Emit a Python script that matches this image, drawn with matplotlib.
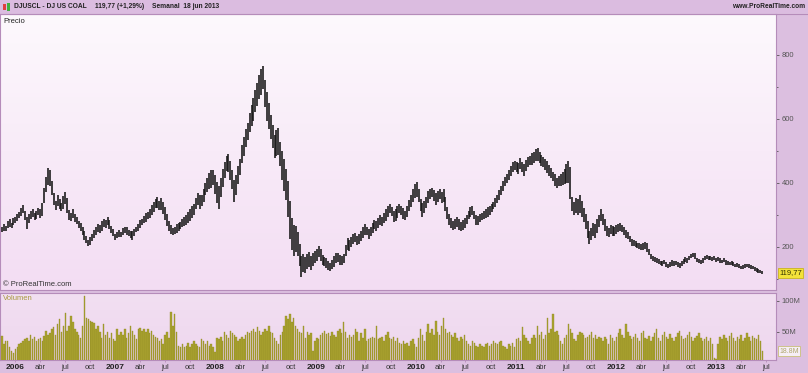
import matplotlib
matplotlib.use("Agg")
import matplotlib.pyplot as plt
import matplotlib.dates as mdates
from matplotlib import font_manager
from matplotlib.colors import LinearSegmentedColormap
from matplotlib.patches import Rectangle
import numpy as np
import pandas as pd

# weekly bars, first week starts 2005-11-14 (weekly, mondays)
start = "2005-11-14"

# mid of each weekly bar (price)
mid_2005 = [255, 262, 258, 270, 275, 268, 280]
mid_2006 = [285, 292, 300, 310, 318, 298, 275, 290, 300, 306,
            295, 300, 312, 305, 318, 360, 395, 420, 415, 385,
            350, 330, 345, 335, 325, 340, 352, 330, 300, 295,
            305, 290, 282, 270, 262, 250, 235, 222, 212, 218,
            230, 240, 250, 260, 255, 265, 275, 272, 282, 270,
            255, 245]
mid_2007 = [232, 238, 242, 240, 248, 252, 250, 244, 240, 236,
            245, 255, 262, 272, 278, 285, 292, 298, 305, 315,
            325, 335, 338, 330, 335, 322, 305, 285, 265, 255,
            248, 252, 258, 262, 268, 275, 280, 285, 292, 300,
            310, 318, 335, 350, 340, 345, 360, 380, 395, 405,
            412, 418, 395]
mid_2008 = [370, 355, 385, 415, 440, 460, 462, 440, 410, 375,
            395, 425, 450, 490, 515, 540, 560, 590, 610, 630,
            655, 675, 700, 715, 730, 680, 640, 610, 575, 545,
            515, 525, 530, 490, 455, 425, 395, 350, 285, 240,
            220, 225, 210, 175, 140, 150, 145, 155, 160, 150,
            162, 170]
mid_2009 = [175, 185, 175, 160, 155, 150, 142, 138, 145, 155,
            165, 168, 160, 158, 165, 190, 210, 205, 215, 225,
            230, 220, 225, 235, 245, 255, 250, 240, 248, 260,
            270, 265, 275, 285, 280, 290, 300, 310, 320, 310,
            295, 300, 310, 320, 315, 305, 298, 312, 330, 345,
            360, 375]
mid_2010 = [380, 360, 330, 315, 325, 340, 355, 365, 370, 360,
            350, 358, 365, 355, 360, 335, 305, 285, 275, 268,
            272, 278, 270, 265, 268, 275, 285, 300, 310, 315,
            300, 285, 282, 290, 295, 300, 305, 310, 315, 322,
            330, 338, 350, 362, 375, 390, 405, 415, 425, 438,
            450, 455]
mid_2011 = [450, 445, 460, 450, 440, 455, 465, 470, 475, 480,
            488, 490, 480, 470, 465, 458, 450, 440, 430, 420,
            410, 400, 405, 410, 415, 420, 430, 435, 400, 335,
            320, 330, 325, 335, 320, 300, 280, 255, 230, 240,
            255, 250, 265, 280, 300, 285, 270, 250, 245, 255,
            250, 248]
mid_2012 = [255, 260, 262, 258, 250, 240, 235, 225, 215, 212,
            210, 205, 203, 200, 202, 205, 198, 185, 170, 165,
            160, 158, 155, 150, 148, 152, 145, 140, 145, 150,
            148, 150, 145, 142, 148, 155, 160, 158, 165, 172,
            175, 172, 160, 155, 152, 158, 165, 168, 166, 165,
            162, 165, 160]
mid_2013 = [162, 158, 155, 160, 152, 150, 148, 150, 146, 142,
            144, 140, 136, 138, 140, 142, 140, 138, 136, 132,
            128, 125, 124, 121]

# high-low span of each weekly bar
span_2005 = [18, 22, 15, 20, 24, 16, 20]
span_2006 = [20, 22, 18, 25, 24, 30, 35, 28, 22, 26,
             20, 24, 22, 30, 40, 48, 45, 55, 50, 42,
             38, 30, 35, 32, 28, 40, 38, 45, 30, 25,
             28, 24, 22, 20, 26, 24, 28, 22, 18, 24,
             20, 26, 22, 24, 25, 30, 28, 26, 24, 30,
             22, 20]
span_2007 = [20, 18, 22, 16, 20, 18, 24, 20, 22, 26,
             20, 18, 22, 24, 20, 22, 26, 24, 28, 30,
             32, 28, 34, 30, 36, 40, 42, 38, 30, 28,
             24, 22, 26, 24, 22, 28, 26, 30, 32, 40,
             38, 35, 34, 38, 42, 36, 40, 38, 44, 50,
             55, 48, 60]
span_2008 = [65, 70, 60, 55, 50, 48, 55, 60, 58, 70,
             62, 55, 50, 58, 60, 55, 52, 60, 65, 70,
             68, 72, 75, 80, 70, 85, 90, 80, 75, 70,
             72, 80, 85, 75, 90, 100, 95, 110, 120, 100,
             95, 80, 75, 70, 65, 55, 50, 45, 48, 42,
             40, 38]
span_2009 = [40, 35, 38, 30, 28, 32, 30, 26, 28, 34,
             30, 28, 32, 30, 28, 35, 38, 32, 30, 34,
             30, 28, 32, 30, 34, 32, 28, 30, 26, 32,
             28, 30, 34, 30, 28, 32, 36, 34, 30, 28,
             32, 35, 38, 30, 28, 32, 30, 34, 36, 38,
             40, 42]
span_2010 = [45, 40, 38, 42, 36, 34, 38, 32, 30, 34,
             36, 32, 30, 35, 40, 42, 38, 34, 30, 28,
             32, 30, 34, 28, 30, 32, 28, 26, 30, 28,
             26, 30, 28, 26, 24, 28, 26, 30, 28, 26,
             24, 28, 26, 30, 28, 32, 30, 28, 32, 30,
             34, 30]
span_2011 = [32, 36, 34, 30, 38, 34, 32, 30, 36, 34,
             38, 40, 36, 34, 32, 36, 38, 34, 32, 30,
             36, 34, 32, 38, 40, 45, 60, 70, 100, 45,
             40, 48, 52, 55, 50, 45, 48, 55, 42, 38,
             40, 45, 42, 38, 36, 34, 38, 32, 30, 28,
             30, 26]
span_2012 = [28, 26, 24, 22, 26, 24, 22, 20, 22, 18,
             20, 18, 16, 20, 22, 24, 26, 20, 18, 16,
             15, 14, 16, 14, 15, 13, 16, 14, 15, 16,
             14, 13, 15, 14, 16, 18, 15, 14, 13, 14,
             15, 16, 14, 13, 12, 14, 13, 12, 14, 12,
             13, 11, 12]
span_2013 = [12, 13, 11, 12, 14, 12, 11, 13, 12, 10,
             11, 12, 10, 11, 12, 10, 11, 12, 10, 11,
             10, 12, 10, 8]

# weekly volume, millions
vol_2005 = [43, 30, 35, 35, 25, 20, 16]
vol_2006 = [22, 25, 30, 32, 35, 38, 40, 35, 45, 38,
            42, 35, 38, 40, 36, 43, 51, 45, 48, 55,
            58, 45, 62, 70, 50, 60, 80, 52, 60, 76,
            65, 55, 50, 45, 40, 60, 108, 72, 70, 68,
            66, 64, 55, 60, 50, 40, 62, 45, 50, 40,
            48, 38]
vol_2007 = [35, 55, 45, 50, 45, 55, 40, 48, 60, 52,
            45, 38, 55, 56, 52, 54, 50, 55, 48, 52,
            45, 42, 40, 35, 38, 30, 45, 50, 40, 82,
            60, 78, 50, 28, 25, 30, 26, 28, 32, 25,
            30, 35, 30, 28, 26, 38, 35, 30, 36, 28,
            30, 25, 18]
vol_2008 = [40, 38, 42, 35, 50, 45, 40, 52, 48, 45,
            42, 35, 38, 42, 38, 45, 50, 48, 52, 55,
            50, 58, 52, 45, 50, 55, 52, 60, 50, 48,
            40, 35, 30, 45, 50, 60, 75, 70, 78, 65,
            72, 60, 55, 50, 48, 60, 40, 50, 45, 48,
            20, 35]
vol_2009 = [40, 38, 45, 48, 52, 46, 48, 44, 50, 45,
            42, 52, 55, 48, 65, 50, 40, 45, 42, 45,
            55, 50, 35, 48, 40, 55, 35, 38, 40, 42,
            40, 60, 38, 40, 42, 35, 45, 50, 40, 38,
            42, 35, 40, 32, 30, 35, 30, 32, 28, 35,
            38, 30]
vol_2010 = [25, 40, 55, 45, 35, 50, 62, 48, 55, 45,
            68, 50, 45, 60, 72, 55, 48, 50, 45, 42,
            48, 40, 35, 42, 38, 45, 35, 30, 28, 35,
            32, 28, 25, 30, 28, 26, 30, 32, 28, 30,
            35, 32, 30, 34, 35, 28, 25, 22, 30, 28,
            32, 25]
vol_2011 = [38, 40, 35, 58, 45, 40, 35, 30, 40, 45,
            40, 60, 45, 50, 38, 45, 72, 48, 55, 78,
            50, 52, 45, 35, 30, 40, 45, 62, 55, 48,
            38, 35, 45, 50, 48, 45, 40, 42, 45, 50,
            40, 45, 38, 42, 40, 35, 42, 38, 30, 45,
            40, 36]
vol_2012 = [42, 48, 55, 45, 40, 62, 50, 44, 38, 42,
            46, 40, 36, 48, 52, 40, 38, 44, 35, 42,
            48, 55, 40, 36, 45, 50, 42, 38, 46, 40,
            35, 42, 48, 52, 44, 38, 40, 45, 50, 42,
            36, 40, 44, 48, 40, 35, 38, 42, 36, 40,
            30, 8, 6]
vol_2013 = [30, 42, 38, 45, 40, 36, 44, 48, 40, 35,
            42, 38, 45, 36, 40, 48, 42, 35, 44, 40,
            38, 45, 36, 18.8]

year_ticks = [2006, 2007, 2008, 2009, 2010, 2011, 2012, 2013]
month_ticks = [(4, "abr"), (7, "jul"), (10, "oct")]
last_price = "119,77"
last_vol = "18.8M"

mid = np.array(mid_2005 + mid_2006 + mid_2007 + mid_2008 + mid_2009 +
               mid_2010 + mid_2011 + mid_2012 + mid_2013, dtype=float)
span = np.array(span_2005 + span_2006 + span_2007 + span_2008 + span_2009 +
                span_2010 + span_2011 + span_2012 + span_2013, dtype=float)
vol = np.array(vol_2005 + vol_2006 + vol_2007 + vol_2008 + vol_2009 +
               vol_2010 + vol_2011 + vol_2012 + vol_2013, dtype=float)
dates = pd.date_range(start, periods=len(mid), freq="W-MON")
x = mdates.date2num(dates)

W, H = 808, 373
PURPLE = "#dcbfe0"
EDGE = "#b58cba"
FONT = "Liberation Sans"
installed = {f.name for f in font_manager.fontManager.ttflist}
NARROW = next((f for f in ["Liberation Sans Narrow", "DejaVu Sans Condensed"]
               if f in installed), FONT)
hdr_size = 6.2 if NARROW != FONT else 4.8

fig = plt.figure(figsize=(W / 100, H / 100), dpi=100)
fig.patch.set_facecolor(PURPLE)


def fbox(x0, y0, x1, y1):
    # pixel box (top-left origin) -> figure fraction rect
    return [x0 / W, 1 - y1 / H, (x1 - x0) / W, (y1 - y0) / H]


ax = fig.add_axes(fbox(0, 14, 776, 290))
axv = fig.add_axes(fbox(0, 293, 776, 360), sharex=ax)

xlim = (mdates.date2num(pd.Timestamp("2005-11-07")), mdates.date2num(pd.Timestamp("2013-08-06")))

grad_p = LinearSegmentedColormap.from_list("gp", ["#fdf9fd", "#f3ddf3"])
grad_v = LinearSegmentedColormap.from_list("gv", ["#f2dff2", "#eed7ee"])
for a, cm in ((ax, grad_p), (axv, grad_v)):
    a.set_autoscale_on(False)
    a.imshow(np.linspace(0, 1, 100).reshape(-1, 1), cmap=cm, aspect="auto",
             extent=(0, 1, 0, 1), transform=a.transAxes, zorder=0)
    for s in a.spines.values():
        s.set_color(EDGE)
        s.set_linewidth(0.8)

# price bars
ax.vlines(x, mid - span / 2, mid + span / 2, color="#151515", lw=1.15, zorder=3)
ax.set_xlim(*xlim)
ax.set_ylim(65.6, 928)

ax.yaxis.tick_right()
ax.set_yticks([200, 400, 600, 800])
ax.set_yticks([100, 300, 500, 700], minor=True)
ax.tick_params(axis="y", which="both", direction="out", length=2.5, width=0.6,
               colors="#555555", labelsize=5.5, pad=1.5)
ax.tick_params(axis="y", which="minor", length=1.5)
for lab in ax.get_yticklabels():
    lab.set_fontfamily(FONT)
ax.tick_params(axis="x", which="both", bottom=False, labelbottom=False)

ax.text(1.004, 119.77, last_price, transform=ax.get_yaxis_transform(),
        ha="left", va="center", fontsize=5.5, family=FONT, color="#333300",
        bbox=dict(boxstyle="square,pad=0.2", fc="#f3e23a", ec="#c9b420", lw=0.6))
ax.text(0.004, 0.985, "Precio", transform=ax.transAxes, ha="left", va="top",
        fontsize=5.5, family=FONT, color="#222222")
ax.text(0.004, 0.008, "\u00a9 ProRealTime.com", transform=ax.transAxes, ha="left",
        va="bottom", fontsize=5.5, family=FONT, color="#333333")

# volume
axv.bar(x, vol, width=5.2, color="#aaa330", edgecolor="#8e8824", linewidth=0.25, zorder=3)
axv.set_ylim(4.8, 112)
axv.yaxis.tick_right()
axv.set_yticks([50, 100])
axv.set_yticklabels(["50M", "100M"])
axv.tick_params(axis="y", direction="out", length=2.5, width=0.6,
                colors="#555555", labelsize=5.5, pad=1.5)
for lab in axv.get_yticklabels():
    lab.set_fontfamily(FONT)
axv.text(1.004, 18.8, last_vol, transform=axv.get_yaxis_transform(),
         ha="left", va="center", fontsize=5, family=FONT, color="#b0a870",
         bbox=dict(boxstyle="square,pad=0.2", fc="#f6eef6", ec="#c9c07a", lw=0.6))
axv.text(0.004, 0.97, "Volumen", transform=axv.transAxes, ha="left", va="top",
         fontsize=5.5, family=FONT, color="#a89a40")

# date axis
tick_pos, tick_txt, tick_bold = [], [], []
for yr in year_ticks:
    tick_pos.append(mdates.date2num(pd.Timestamp(yr, 1, 1)))
    tick_txt.append(str(yr))
    tick_bold.append(True)
    for m, name in month_ticks:
        d = pd.Timestamp(yr, m, 1)
        if d <= pd.Timestamp("2013-07-01"):
            tick_pos.append(mdates.date2num(d))
            tick_txt.append(name)
            tick_bold.append(False)
axv.set_xticks(tick_pos)
axv.tick_params(axis="x", direction="out", length=1.5, width=0.6, colors=EDGE,
                labelbottom=False)
for p, t, b in zip(tick_pos, tick_txt, tick_bold):
    axv.text(p, -0.06, t, transform=axv.get_xaxis_transform(), ha="center", va="top",
             fontsize=6 if b else 5.5, fontweight="bold" if b else "normal",
             family=FONT, color="#222222" if b else "#333333")
axv.set_xlim(*xlim)

# header bar
fig.add_artist(Rectangle((0, 1 - 13 / H), 1, 13 / H, transform=fig.transFigure,
                         fc="#dbbce0", ec="none", zorder=0))
fig.add_artist(plt.Line2D([0, 1], [1 - 13.5 / H] * 2, transform=fig.transFigure,
                          color=EDGE, lw=0.8))
fig.add_artist(Rectangle((3 / W, 1 - 10 / H), 2.5 / W, 6 / H, transform=fig.transFigure,
                         fc="#e04040", ec="none"))
fig.add_artist(Rectangle((7 / W, 1 - 11 / H), 2.5 / W, 8 / H, transform=fig.transFigure,
                         fc="#40b040", ec="none"))
hdr = dict(ha="left", va="center", fontsize=hdr_size, fontweight="bold",
           family=NARROW, color="#222222")
fig.text(14 / W, 1 - 6.5 / H, "DJUSCL - DJ US COAL", **hdr)
fig.text(95 / W, 1 - 6.5 / H, "119,77 (+1,29%)", **hdr)
fig.text(152 / W, 1 - 6.5 / H, "Semanal  18 jun 2013", **hdr)
fig.text(805 / W, 1 - 6.5 / H, "www.ProRealTime.com", ha="right", va="center",
         fontsize=hdr_size, fontweight="bold", family=NARROW, color="#222222")

fig.savefig("out.png", dpi=100, facecolor=fig.get_facecolor())
